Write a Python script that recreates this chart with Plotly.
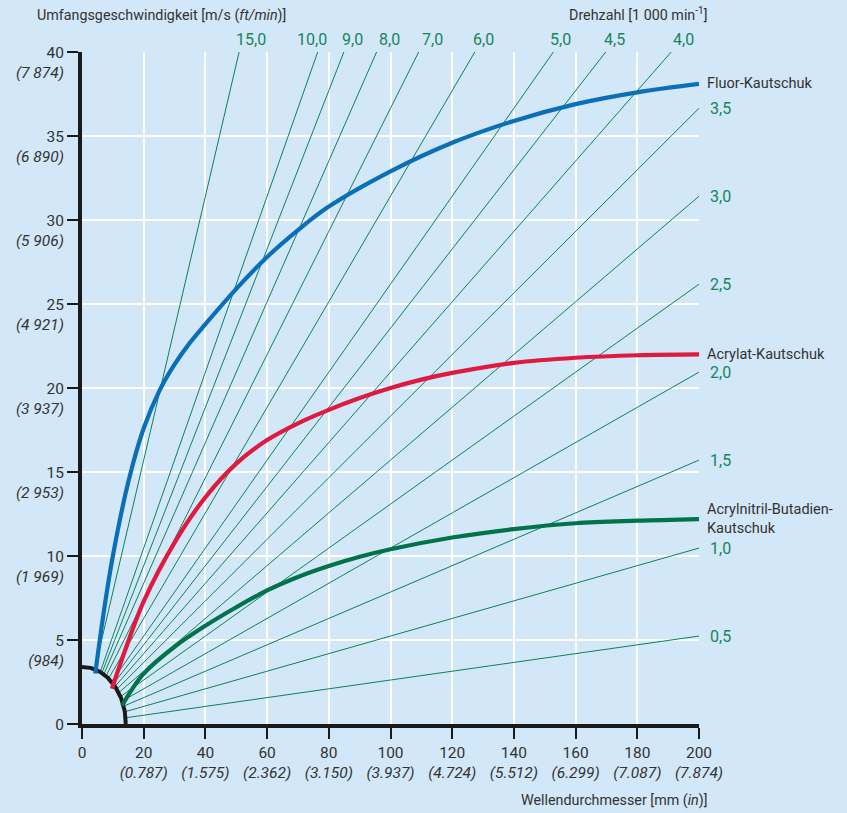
import numpy as np
import plotly.graph_objects as go

# ---------------- data ----------------
x_ticks = [0, 20, 40, 60, 80, 100, 120, 140, 160, 180, 200]
x_tick_in = ["", "0.787", "1.575", "2.362", "3.150", "3.937", "4.724", "5.512", "6.299", "7.087", "7.874"]
y_ticks = [0, 5, 10, 15, 20, 25, 30, 35, 40]
y_tick_ft = ["", "984", "1 969", "2 953", "3 937", "4 921", "5 906", "6 890", "7 874"]

# rotational speed lines, 1000 min^-1
rpm_k = [15.0, 10.0, 9.0, 8.0, 7.0, 6.0, 5.0, 4.5, 4.0, 3.5, 3.0, 2.5, 2.0, 1.5, 1.0, 0.5]
rpm_labels = ["15,0", "10,0", "9,0", "8,0", "7,0", "6,0", "5,0", "4,5", "4,0",
              "3,5", "3,0", "2,5", "2,0", "1,5", "1,0", "0,5"]

# material limit curves (diameter mm, speed m/s)
fluor_d = [4.3, 7, 10, 15, 20, 25, 30, 35, 40, 50, 60, 70, 80, 100, 120, 140, 160, 180, 200]
fluor_v = [3.0, 6.6, 10.0, 14.4, 17.6, 19.8, 21.4, 22.7, 23.8, 25.9, 27.8, 29.4, 30.8, 32.9, 34.6, 35.9, 36.9, 37.6, 38.1]

acryl_d = [9.7, 14, 20, 30, 40, 50, 60, 70, 80, 90, 100, 110, 120, 140, 160, 180, 200]
acryl_v = [2.1, 4.4, 7.3, 10.8, 13.5, 15.5, 16.9, 17.9, 18.7, 19.4, 20.0, 20.5, 20.9, 21.5, 21.8, 21.95, 22.0]

nbr_d = [13, 16, 20, 30, 40, 50, 60, 70, 80, 90, 100, 120, 140, 160, 180, 200]
nbr_v = [1.1, 2.0, 3.0, 4.6, 5.85, 6.95, 7.95, 8.75, 9.4, 9.95, 10.4, 11.1, 11.6, 11.95, 12.1, 12.2]

curve_names = ["Fluor-Kautschuk", "Acrylat-Kautschuk", "Acrylnitril-Butadien-<br>Kautschuk"]

# hub arc (diameter / speed extents)
arc_d = 14.2
arc_v = 3.4

# ---------------- style ----------------
BG = "#d2e7f7"
TXT = "#333333"
GREEN_TXT = "#17855c"
RAY = "#10805a"
FONT = "Roboto"
top_label_shift = {"10,0": -6, "9,0": 9, "8,0": 13, "7,0": 14, "6,0": 9, "5,0": 7, "4,5": 9}

fig = go.Figure()

XMAX, YMAX = 200, 40
annotations = []
for n, lab in zip(rpm_k, rpm_labels):
    v_end = np.pi * XMAX * n / 60.0
    if v_end > YMAX:
        d_end = YMAX * 60.0 / (np.pi * n)
        v_end = YMAX
        annotations.append(dict(x=d_end, y=YMAX, text=lab, showarrow=False, xanchor="center",
                                yanchor="middle", xshift=top_label_shift.get(lab, 12), yshift=13,
                                font=dict(color=GREEN_TXT, size=16, family=FONT)))
    else:
        d_end = XMAX
        annotations.append(dict(x=d_end, y=v_end, text=lab, showarrow=False, xanchor="left",
                                yanchor="middle", xshift=9, yshift=0,
                                font=dict(color=GREEN_TXT, size=16, family=FONT)))
    fig.add_trace(go.Scatter(x=[0, d_end], y=[0, v_end], mode="lines",
                             line=dict(color=RAY, width=1), hoverinfo="skip", showlegend=False))

# hub arc covering the ray origins
t = np.linspace(0, np.pi / 2, 60)
ax_ = arc_d * np.sin(t)
ay_ = arc_v * np.cos(t)
fig.add_trace(go.Scatter(x=np.concatenate([[0], ax_, [0]]), y=np.concatenate([[0], ay_, [0]]),
                         mode="lines", fill="toself", fillcolor=BG, line=dict(width=0),
                         hoverinfo="skip", showlegend=False))
fig.add_trace(go.Scatter(x=ax_, y=ay_, mode="lines", line=dict(color="#1a1a1a", width=4),
                         hoverinfo="skip", showlegend=False))

colors = ["#0b6fb8", "#e0193f", "#00734a"]
for (dd, vv, c, nm) in [(fluor_d, fluor_v, colors[0], curve_names[0]),
                        (acryl_d, acryl_v, colors[1], curve_names[1]),
                        (nbr_d, nbr_v, colors[2], curve_names[2])]:
    fig.add_trace(go.Scatter(x=dd, y=vv, mode="lines", line=dict(color=c, width=4.2, shape="spline", smoothing=1.0),
                             hoverinfo="skip", showlegend=False))
    annotations.append(dict(x=dd[-1], y=vv[-1], text=nm, showarrow=False, xanchor="left",
                            yanchor="middle", xshift=6, align="left",
                            font=dict(color=TXT, size=14.5, family=FONT)))

annotations += [
    dict(xref="x", yref="paper", x=0, y=1, xanchor="left", yanchor="middle", xshift=-47, yshift=37,
         text="Umfangsgeschwindigkeit [m/s (<i>ft/min</i>)]", showarrow=False,
         font=dict(color=TXT, size=14.3, family=FONT)),
    dict(xref="x", yref="paper", x=200, y=1, xanchor="right", yanchor="middle", xshift=10, yshift=38,
         text="Drehzahl [1 000 min<sup>-1</sup>]", showarrow=False,
         font=dict(color=TXT, size=14.3, family=FONT)),
    dict(xref="x", yref="paper", x=200, y=0, xanchor="right", yanchor="middle", xshift=10, yshift=-76,
         text="Wellendurchmesser [mm (<i>in</i>)]", showarrow=False,
         font=dict(color=TXT, size=14.3, family=FONT)),
]

x_text = [f"{x}" if s == "" else f"{x}<br><i>({s})</i>" for x, s in zip(x_ticks, x_tick_in)]
y_text = [f"{y}<br>\u00a0" if s == "" else f"{y}<br><i>({s})</i>" for y, s in zip(y_ticks, y_tick_ft)]

fig.update_layout(
    width=847, height=813,
    margin=dict(l=82, r=148, t=52, b=89, autoexpand=False),
    paper_bgcolor=BG, plot_bgcolor=BG,
    font=dict(family=FONT, color=TXT, size=15),
    annotations=annotations,
    xaxis=dict(range=[0, 200], tickmode="array", tickvals=x_ticks, ticktext=x_text,
               showgrid=True, gridcolor="white", gridwidth=1.5, zeroline=False,
               showline=True, linecolor="#1a1a1a", linewidth=4, automargin=False,
               ticks="outside", ticklen=11, tickwidth=2, tickcolor="#1a1a1a",
               tickfont=dict(size=15.5, color=TXT), fixedrange=True),
    yaxis=dict(range=[0, 40], tickmode="array", tickvals=y_ticks, ticktext=y_text,
               showgrid=True, gridcolor="white", gridwidth=1.5, zeroline=False,
               showline=True, linecolor="#1a1a1a", linewidth=4, automargin=False,
               ticks="outside", ticklen=11, tickwidth=2, tickcolor="#1a1a1a",
               tickfont=dict(size=15.5, color=TXT), ticklabelshift=11, fixedrange=True),
)

fig.write_html("out.html", config={"displayModeBar": False},
               post_script="document.body.style.margin='0px';document.body.style.background='" + BG + "';")
